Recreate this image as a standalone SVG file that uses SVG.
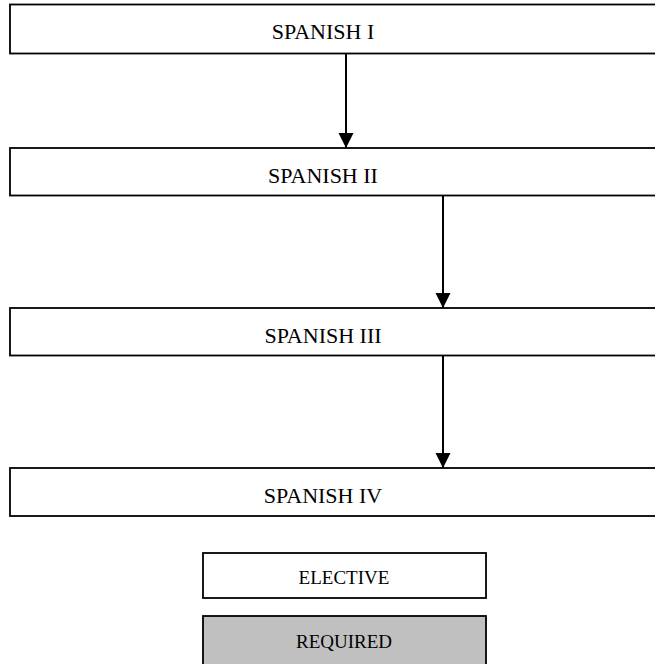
<svg xmlns="http://www.w3.org/2000/svg" width="655" height="664" viewBox="0 0 655 664">
  <style>
    .box { fill: #ffffff; stroke: #000000; stroke-width: 1.8; }
    .req { fill: #c0c0c0; stroke: #000000; stroke-width: 1.8; }
    .lbl { font-family: "Liberation Serif", "Times New Roman", serif; font-size: 22px; fill: #000000; text-anchor: middle; }
    .leg { font-family: "Liberation Serif", "Times New Roman", serif; font-size: 19px; fill: #000000; text-anchor: middle; }
    .edge { stroke: #000000; stroke-width: 2; fill: none; }
  </style>
  <defs>
    <marker id="arrow" markerUnits="userSpaceOnUse" markerWidth="16" markerHeight="16" refX="15" refY="7.5" orient="auto">
      <path d="M0,0 L15,7.5 L0,15 Z" fill="#000000"/>
    </marker>
  </defs>

  <!-- course sequence -->
  <g id="spanish-1">
    <rect class="box" x="10" y="4.5" width="660" height="49"/>
    <text class="lbl" x="323" y="39">SPANISH I</text>
  </g>
  <g id="spanish-2">
    <rect class="box" x="10" y="148" width="660" height="47.5"/>
    <text class="lbl" x="323" y="183">SPANISH II</text>
  </g>
  <g id="spanish-3">
    <rect class="box" x="10" y="308" width="660" height="47.5"/>
    <text class="lbl" x="323" y="343">SPANISH III</text>
  </g>
  <g id="spanish-4">
    <rect class="box" x="10" y="468" width="660" height="48"/>
    <text class="lbl" x="323" y="503">SPANISH IV</text>
  </g>

  <!-- legend -->
  <g id="legend-elective">
    <rect class="box" x="203" y="553" width="283" height="45"/>
    <text class="leg" x="344" y="584">ELECTIVE</text>
  </g>
  <g id="legend-required">
    <rect class="req" x="203" y="616" width="283" height="60"/>
    <text class="leg" x="344" y="648">REQUIRED</text>
  </g>

  <!-- prerequisite arrows -->
  <g id="connectors">
    <line class="edge" x1="346" y1="53.5" x2="346" y2="148" marker-end="url(#arrow)"/>
    <line class="edge" x1="443" y1="195.5" x2="443" y2="308" marker-end="url(#arrow)"/>
    <line class="edge" x1="443" y1="355.5" x2="443" y2="468" marker-end="url(#arrow)"/>
  </g>
</svg>
